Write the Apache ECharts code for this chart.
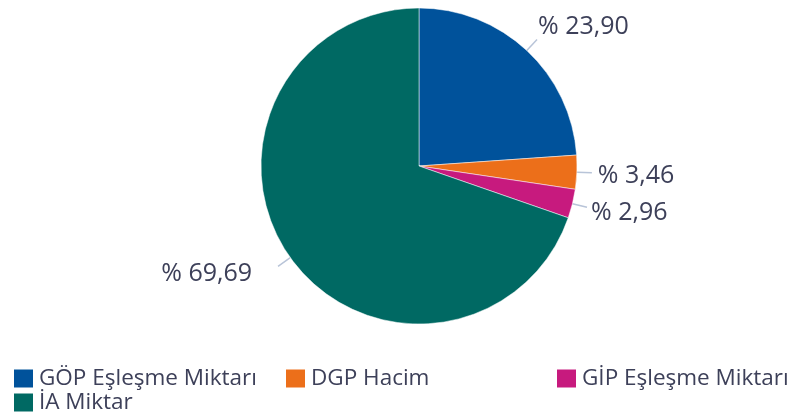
<!DOCTYPE html>
<html><head><meta charset="utf-8">
<script src="https://cdn.jsdelivr.net/npm/echarts@6/dist/echarts.min.js"></script>
<style>html,body{margin:0;padding:0;background:#fff}#c{width:793px;height:415px}</style>
</head><body><div id="c"></div>
<script>
const categories = ['GÖP Eşleşme Miktarı', 'DGP Hacim', 'GİP Eşleşme Miktarı', 'İA Miktar'];
const values = [23.90, 3.46, 2.96, 69.69];
const colors = ['#00529b', '#ec6f1a', '#c71a7e', '#006963'];
// per-label nudges (layout only)
const labelShift = [[-4, -13], [1, 3], [-1, 6], [-21, 8]];

const textColor = '#3d4059';
const font = '"Open Sans", "Noto Sans", sans-serif';
const chart = echarts.init(document.getElementById('c'), null, {renderer: 'canvas'});
function leg(name, left, top) {
  return {
    data: [name], left: left, top: top, orient: 'horizontal',
    itemWidth: 21, itemHeight: 20, icon: 'rect', padding: 0,
    textStyle: {fontFamily: font, fontSize: 22.5, color: textColor}
  };
}
chart.setOption({
  animation: false,
  color: colors,
  legend: [
    leg(categories[0], 12, 367),
    leg(categories[1], 284, 367),
    leg(categories[2], 555, 367),
    leg(categories[3], 12, 391)
  ],
  series: [{
    type: 'pie',
    center: [419, 166],
    radius: [0, 158],
    startAngle: 90,
    clockwise: true,
    data: categories.map((n, i) => ({name: n, value: values[i]})),
    itemStyle: {borderColor: '#fff', borderWidth: 0.5},
    label: {
      show: true,
      formatter: p => '% ' + p.value.toFixed(2).replace('.', ','),
      fontFamily: font, fontSize: 25, color: textColor
    },
    labelLine: {show: true, length: 15, length2: 0, lineStyle: {color: '#b8c4d8', width: 1.5}},
    labelLayout: p => ({dx: labelShift[p.dataIndex][0], dy: labelShift[p.dataIndex][1]}),
    emphasis: {disabled: true}
  }]
});
</script></body></html>
